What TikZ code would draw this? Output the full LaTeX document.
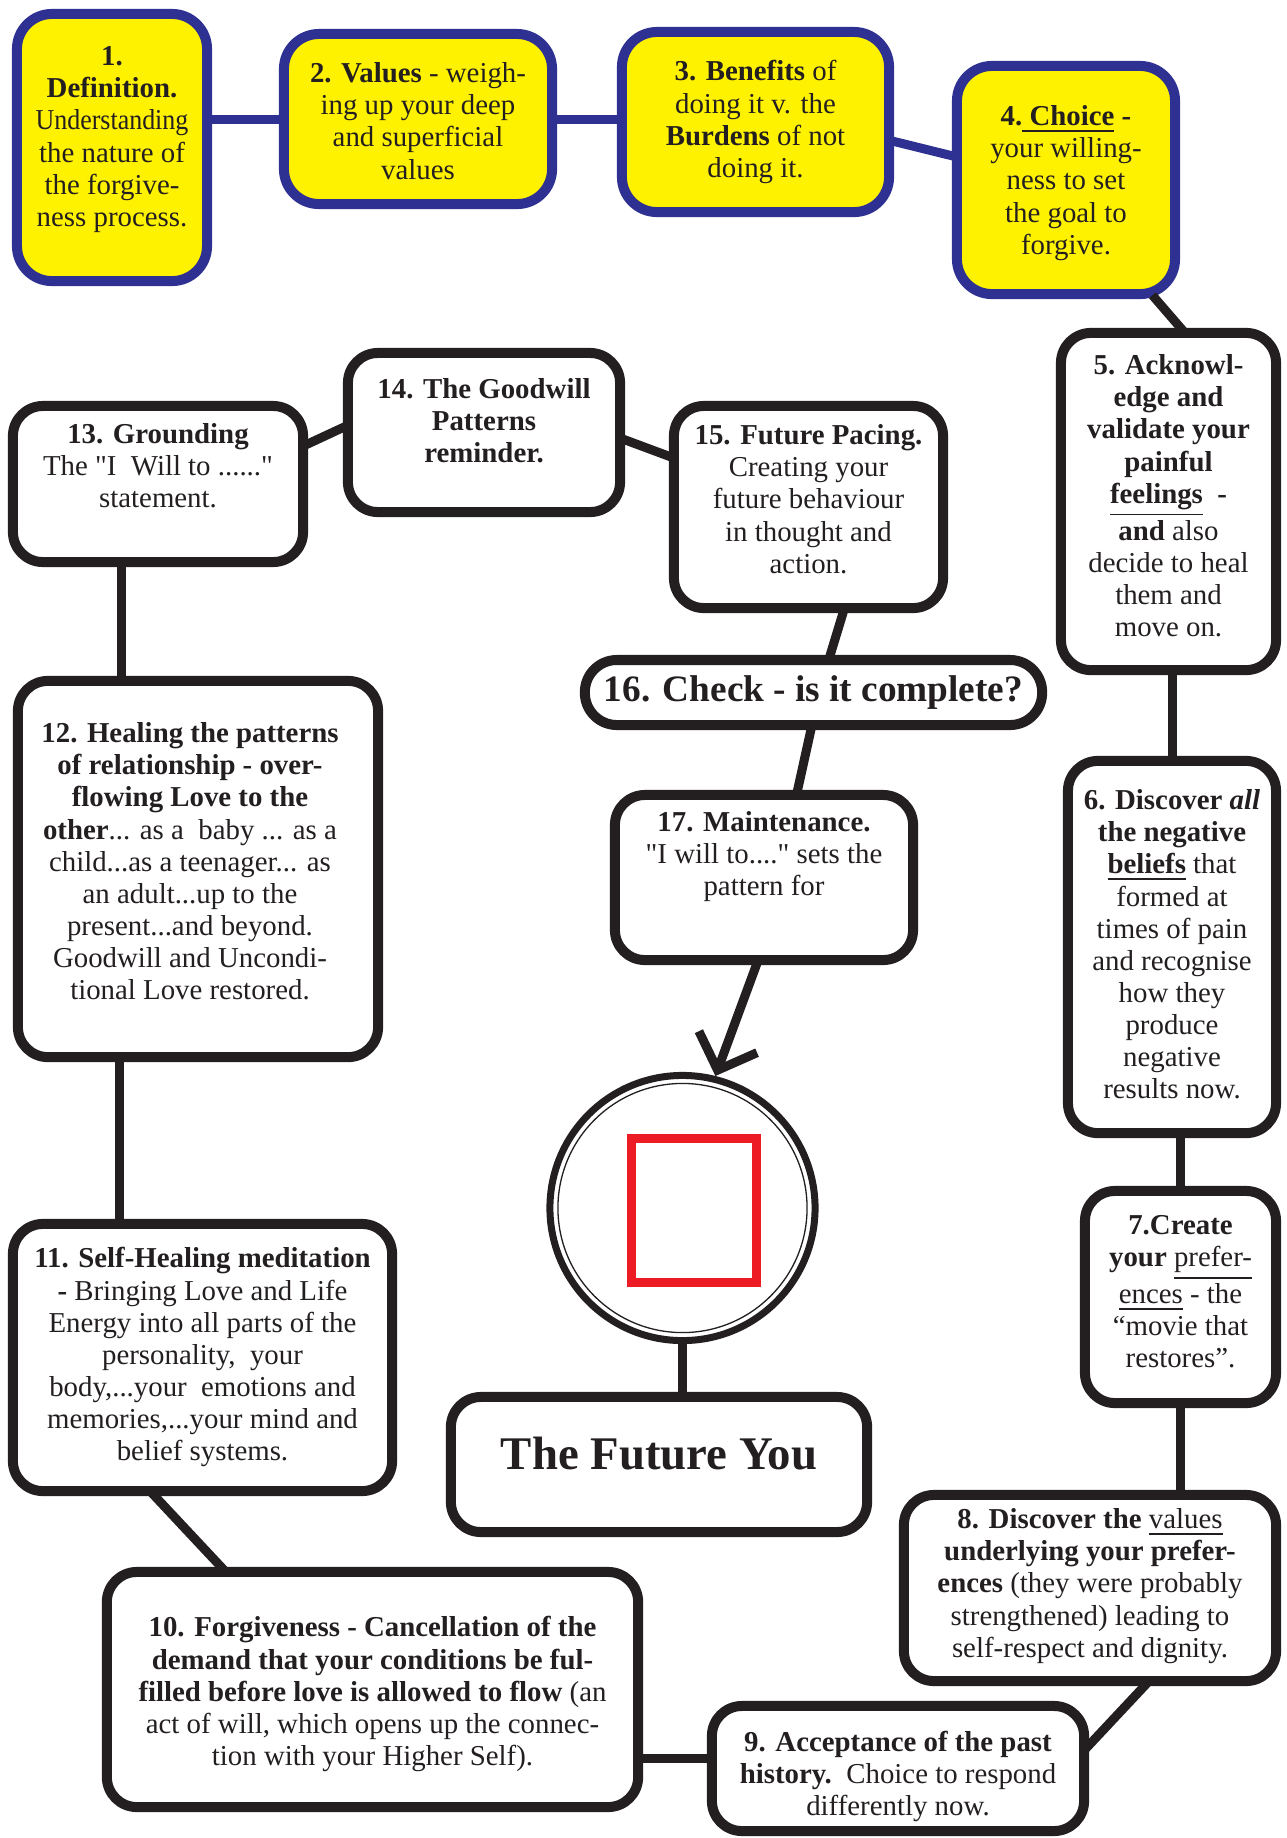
\documentclass[tikz,border=0pt]{standalone}
\usepackage{fontspec}
\setmainfont{Liberation Serif}
\usepackage{xcolor}
\usepackage{graphicx}
\usepackage{tikz}
\usetikzlibrary{positioning, shapes, arrows.meta, calc}

\definecolor{boxyellow}{RGB}{255,242,0}
\definecolor{boxblue}{RGB}{46,49,146}
\definecolor{inkblack}{RGB}{35,31,32}
\definecolor{squarered}{RGB}{237,28,36}

\begin{document}
\begin{tikzpicture}[x=0.01cm, y=-0.01cm,
        stepbox/.style={draw=inkblack, line width=0.1cm, rounded corners=0.3cm, fill=white},
        yellowbox/.style={draw=boxblue, line width=0.1cm, rounded corners=0.35cm, fill=boxyellow},
        boxsize/.style 2 args={minimum width=#1, minimum height=#2},
        steptext/.style={align=center, inner sep=0pt, text=inkblack, font=\fontsize{8.2}{9.14}\selectfont},
        link/.style={draw=inkblack, line width=0.09cm, shorten <=-0.05cm, shorten >=-0.05cm},
        bluelink/.style={link, draw=boxblue}]
        \path[use as bounding box] (0,0) rectangle (1287,1838);

        \node[yellowbox, boxsize={1.90cm}{2.67cm}] (b1) at (112,147.5) {};
        \node[steptext, below=0.37cm of b1.north] (t1) {\textbf{1.}\\\textbf{Definition.}\\\scalebox{0.9}[1]{Understanding}\\the nature of\\the forgive-\\ness process.};
        \node[yellowbox, boxsize={2.68cm}{1.70cm}] (b2) at (418,119) {};
        \node[steptext, below=0.33cm of b2.north] (t2) {\textbf{2. Values} - weigh-\\ing up your deep\\and superficial\\values};
        \node[yellowbox, boxsize={2.67cm}{1.80cm}] (b3) at (755.5,122) {};
        \node[steptext, below=0.33cm of b3.north] (t3) {\textbf{3. Benefits} of\\doing it v. the\\\textbf{Burdens} of not\\doing it.};
        \node[yellowbox, boxsize={2.18cm}{2.28cm}] (b4) at (1066,180) {};
        \node[steptext, below=0.44cm of b4.north] (t4) {\textbf{4.\underline{ Choice} -}\\your willing-\\ness to set\\the goal to\\forgive.};

        \node[stepbox, boxsize={2.15cm}{3.37cm}] (b5) at (1168.5,501.5) {};
        \node[steptext, below=0.26cm of b5.north] (t5) {\textbf{5. Acknowl-}\\\textbf{edge and}\\\textbf{validate your}\\\textbf{painful}\\\textbf{\underline{feelings}\ \ -}\\\textbf{and} also\\decide to heal\\them and\\move on.};
        \node[stepbox, boxsize={2.08cm}{3.72cm}] (b6) at (1172,947) {};
        \node[steptext, below=0.33cm of b6.north] (t6) {\textbf{6. Discover \textit{all}}\\\textbf{the negative}\\\textbf{\underline{beliefs}} that\\formed at\\times of pain\\and recognise\\how they\\produce\\negative\\results now.};
        \node[stepbox, boxsize={1.91cm}{2.12cm}] (b7) at (1180.5,1297) {};
        \node[steptext, below=0.29cm of b7.north] (t7) {\textbf{7.Create}\\\textbf{your} \underline{prefer-}\\\underline{ences} - the\\``movie that\\restores''.};
        \node[stepbox, boxsize={3.72cm}{1.86cm}] (b8) at (1090,1588) {};
        \node[steptext, below=0.18cm of b8.north] (t8) {\textbf{8. Discover the} \underline{values}\\\textbf{underlying your prefer-}\\\textbf{ences} (they were probably\\strengthened) leading to\\self-respect and dignity.};
        \node[stepbox, boxsize={3.72cm}{1.25cm}] (b9) at (898,1768.5) {};
        \node[steptext, below=0.29cm of b9.north] (t9) {\textbf{9. Acceptance of the past}\\\textbf{history.}\ \ Choice to respond\\differently now.};
        \node[stepbox, boxsize={5.31cm}{2.35cm}] (b10) at (372.5,1689.5) {};
        \node[steptext, below=0.49cm of b10.north] (t10) {\textbf{10. Forgiveness - Cancellation of the}\\\textbf{demand that your conditions be ful-}\\\textbf{filled before love is allowed to flow} (an\\act of will, which opens up the connec-\\tion with your Higher Self).};
        \node[stepbox, boxsize={3.79cm}{2.67cm}] (b11) at (202.5,1357.5) {};
        \node[steptext, below=0.28cm of b11.north] (t11) {\textbf{11. Self-Healing meditation}\\\textbf{-} Bringing Love and Life\\Energy into all parts of the\\personality,\ \ your\\body,...your\ \ emotions and\\memories,...your mind and\\belief systems.};
        \node[stepbox, boxsize={3.60cm}{3.76cm}] (b12) at (198,869) {};
        \node[steptext, below=0.46cm of b12.north, xshift=-0.08cm] (t12) {\textbf{12. Healing the patterns}\\\textbf{of relationship - over-}\\\textbf{flowing Love to the}\\\textbf{other}... as a\ \ baby ... as a\\child...as a teenager... as\\an adult...up to the\\present...and beyond.\\Goodwill and Uncondi-\\tional Love restored.};
        \node[stepbox, boxsize={2.90cm}{1.56cm}] (b13) at (158,484) {};
        \node[steptext, below=0.22cm of b13.north] (t13) {\textbf{13. Grounding}\\The \textquotedbl I\ \ Will to ......\textquotedbl\\statement.};
        \node[stepbox, boxsize={2.72cm}{1.59cm}] (b14) at (484,432.5) {};
        \node[steptext, below=0.30cm of b14.north] (t14) {\textbf{14. The Goodwill}\\\textbf{Patterns}\\\textbf{reminder.}};
        \node[stepbox, boxsize={2.69cm}{2.02cm}] (b15) at (808.5,507) {};
        \node[steptext, below=0.23cm of b15.north] (t15) {\textbf{15. Future Pacing.}\\Creating your\\future behaviour\\in thought and\\action.};
        \node[stepbox, boxsize={4.57cm}{0.65cm}, rounded corners=0.32cm, text=inkblack, font=\fontsize{10.6}{12}\selectfont\bfseries] (b16) at (813.5,692.5) {16. Check - is it complete?};
        \node[stepbox, boxsize={2.98cm}{1.65cm}] (b17) at (764,877.5) {};
        \node[steptext, below=0.21cm of b17.north] (t17) {\textbf{17. Maintenance.}\\\textquotedbl I will to....\textquotedbl\ sets the\\pattern for};

        \node[circle, draw=inkblack, line width=0.07cm, fill=white, minimum size=2.65cm, inner sep=0pt] (circ) at (682.5,1208) {};
        \draw[inkblack, line width=0.013cm] (circ.center) circle[radius=1.245cm];
        \draw[squarered, line width=0.09cm] (631.5,1138.5) rectangle (756.5,1282.5);
        \node[stepbox, boxsize={4.16cm}{1.35cm}] (fy) at (659,1464.5) {};
        \node[steptext, below=0.44cm of fy.north, font=\fontsize{13.3}{15}\selectfont\bfseries] (tfy) {The Future You};

        \draw[bluelink] (b1.east |- b2.west) -- (b2.west);
        \draw[bluelink] (b2.east) -- (b3.west |- b2.east);
        \draw[bluelink] (b3.-8) -- (b4.168);
        \draw[link] (b4.-53) -- (b5.86);
        \draw[link] (b5.south -| b6.north) -- (b6.north);
        \draw[link] (b6.south -| b7.north) -- (b7.north);
        \draw[link] (b7.south) -- (b7.south |- b8.north);
        \draw[link] (b8.-61) -- (b9.7);
        \draw[link] (b9.177) -- (b9.177 -| b10.east);
        \draw[link] (b10.141) -- (b11.-109);
        \draw[link] (b11.north -| b12.-112) -- (b12.-112);
        \draw[link] (b12.north -| b13.-114) -- (b13.-114);
        \draw[link] (b13.15) -- (b14.178);
        \draw[link] (b14.-3) -- (b15.160);
        \draw[link] (b15.-72) -- (b16.66);
        \draw[link] (b16.-94) -- (b17.69);
        \draw[link, shorten >=0pt, -{Straight Barb[length=0.3cm, width=0.62cm]}] (b17.-95) -- (circ.76);
        \draw[link] (circ.south) -- (circ.south |- fy.north);
\end{tikzpicture}
\end{document}
